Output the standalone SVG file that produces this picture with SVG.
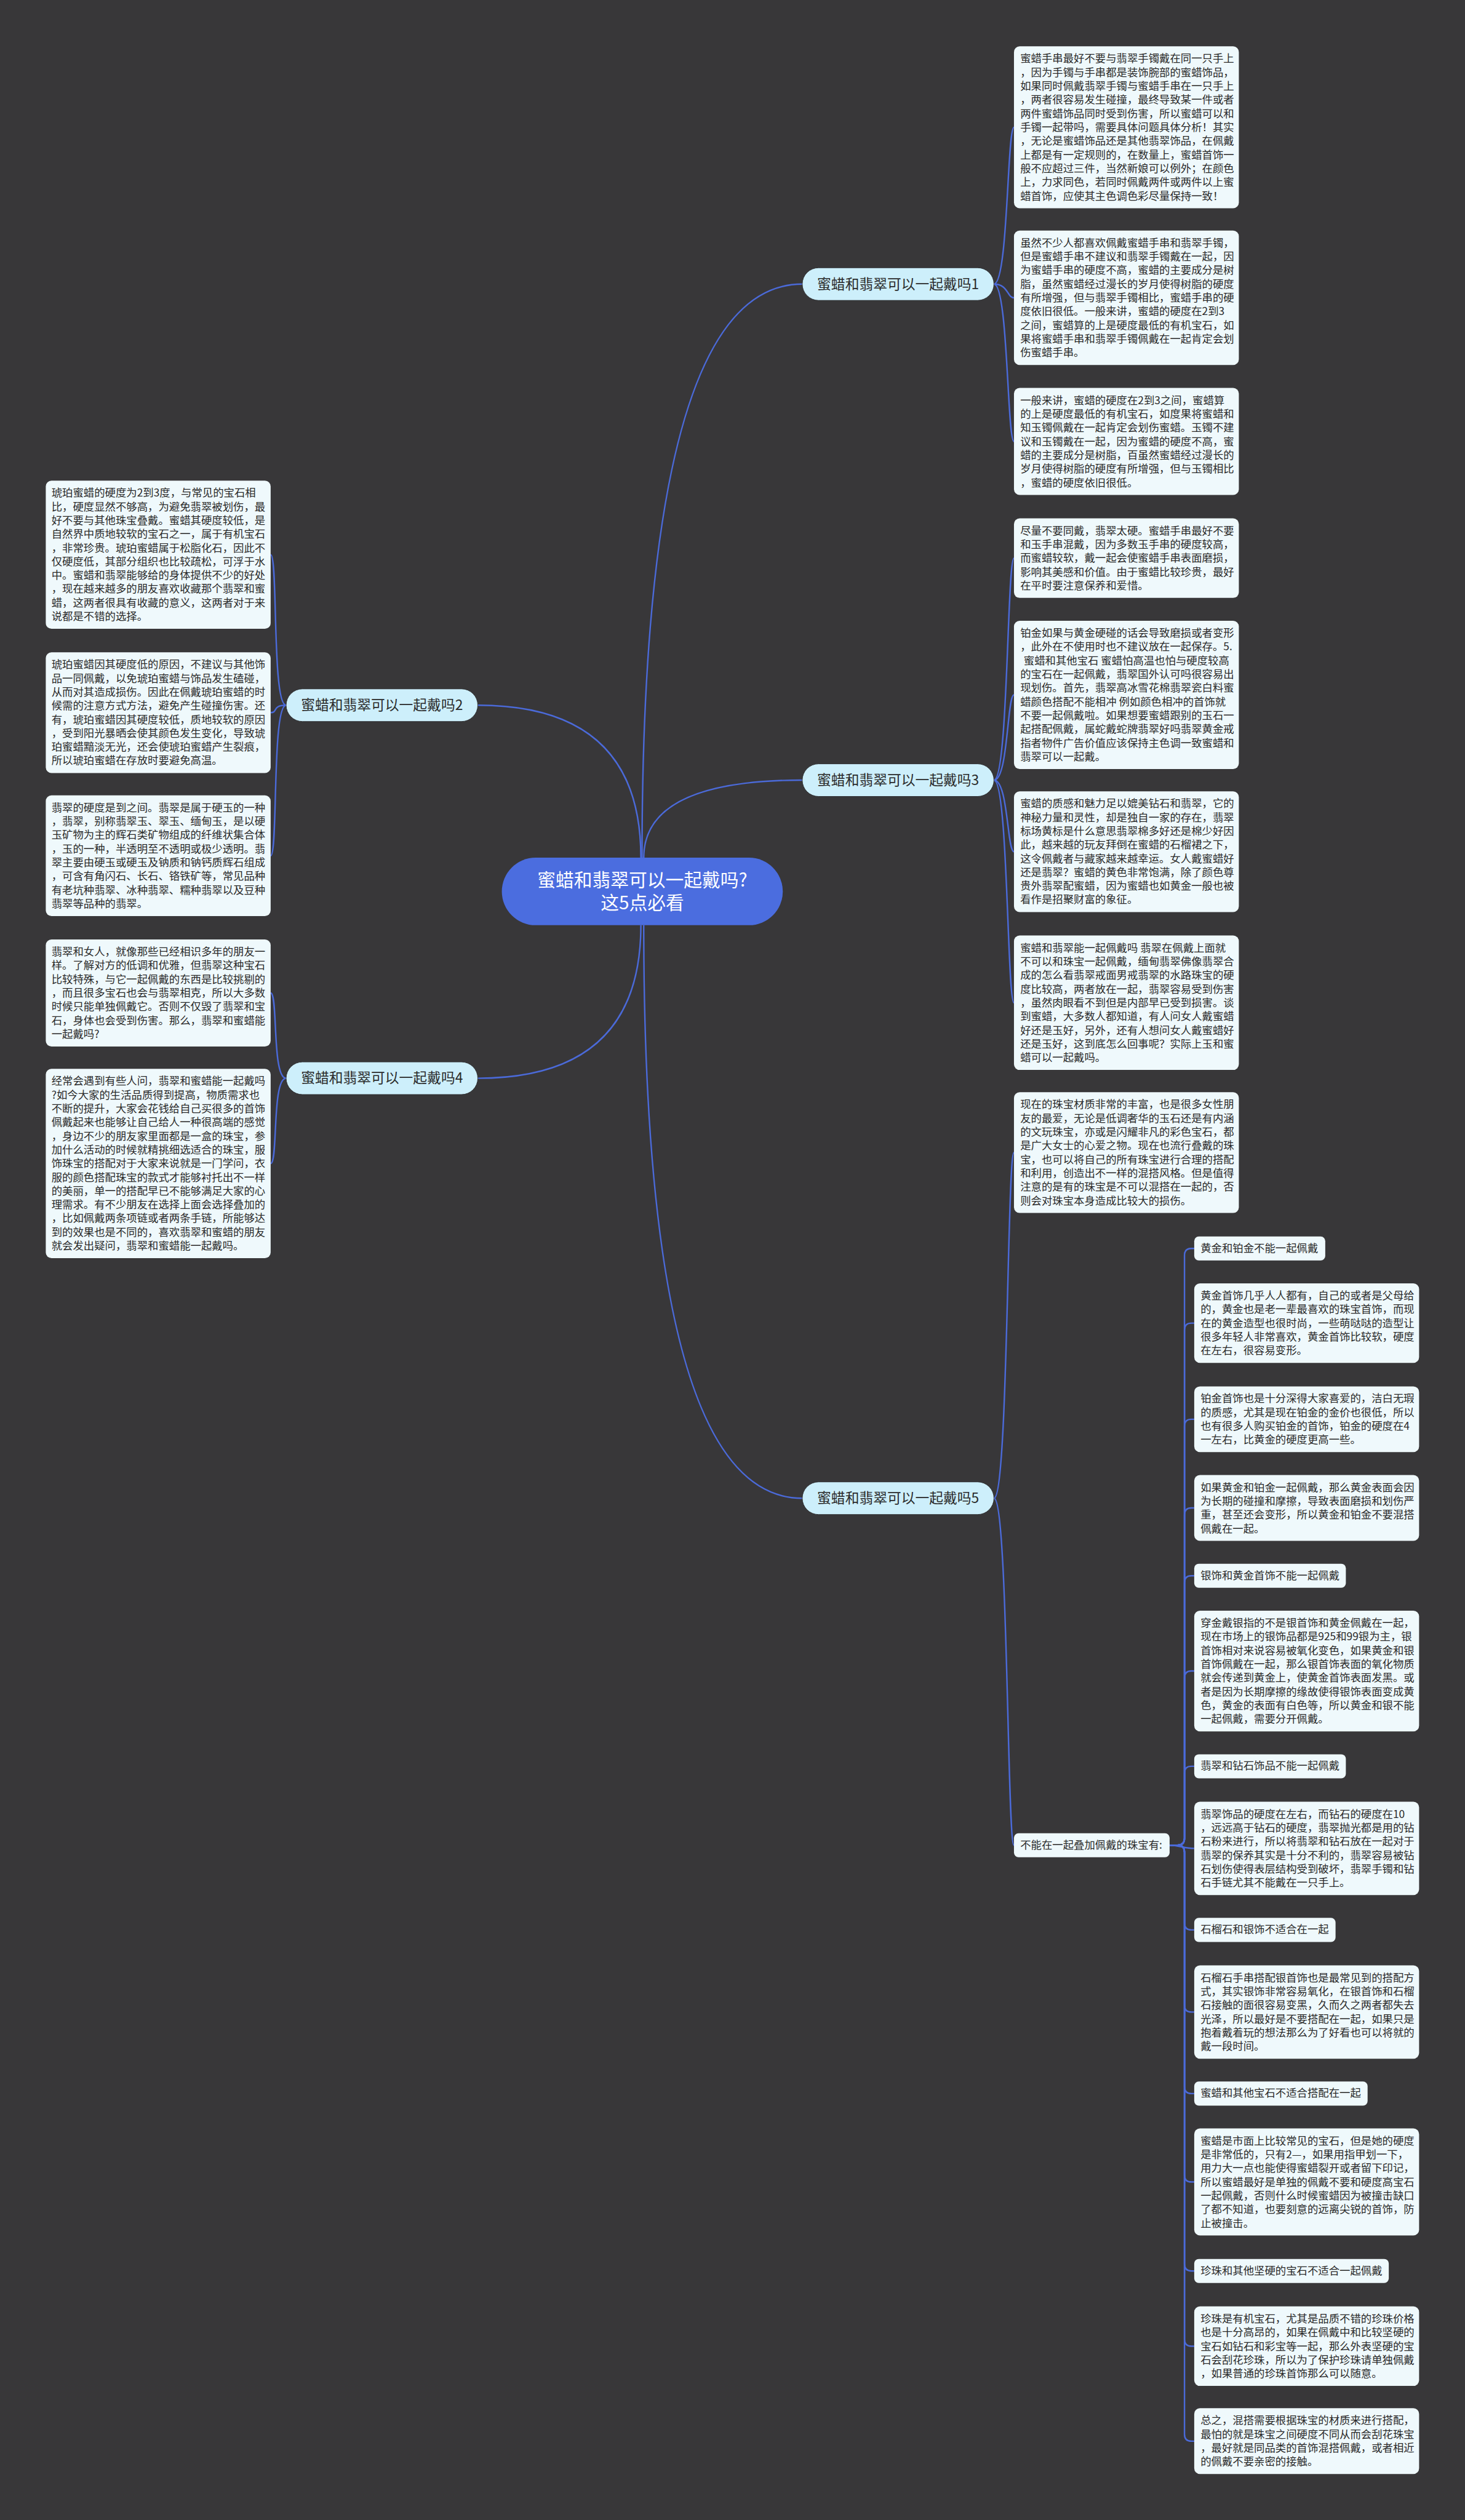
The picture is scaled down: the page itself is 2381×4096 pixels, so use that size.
<svg xmlns="http://www.w3.org/2000/svg" width="2381" height="4096" viewBox="0 0 2381 4096">
<style>
.bg{fill:#383739}
.ln{fill:none;stroke:#4b6ad9;stroke-width:2.6}
.box{fill:#eff9fc}
.br{fill:#cdeffb;stroke:#2a2a2c;stroke-width:1}
.ctr{fill:#4b6ddf}
.t{font-family:"Noto Sans CJK SC","Noto Sans",sans-serif;font-size:18.7px;fill:#2a2a2a}
.bt{font-family:"Noto Sans CJK SC","Noto Sans",sans-serif;font-size:24.5px;fill:#2a2a2a;text-anchor:middle}
.ct{font-family:"Noto Sans CJK SC","Noto Sans",sans-serif;font-size:32px;fill:#ffffff;text-anchor:middle}
</style>
<rect class="bg" x="0" y="0" width="2381" height="4096"/>
<g transform="scale(0.93)">
<g id="connectors">
<path class="ln" d="M1122,1499 Q1122,496.5 1402,496.5"/>
<path class="ln" d="M1125,1499 Q1125,1363.5 1402,1363.5"/>
<path class="ln" d="M1120,1499 Q1120,1232.5 835,1232.5"/>
<path class="ln" d="M1120,1617 Q1120,1884.5 835,1884.5"/>
<path class="ln" d="M1125,1617 Q1125,2618.5 1402,2618.5"/>
<path class="ln" d="M1737,496.5 C1762,496.5 1760,222.5 1772,222.5"/>
<path class="ln" d="M1737,496.5 C1762,496.5 1760,520.5 1772,520.5"/>
<path class="ln" d="M1737,496.5 C1762,496.5 1760,771.5 1772,771.5"/>
<path class="ln" d="M1737,1363.5 C1762,1363.5 1760,975.5 1772,975.5"/>
<path class="ln" d="M1737,1363.5 C1762,1363.5 1760,1214.5 1772,1214.5"/>
<path class="ln" d="M1737,1363.5 C1762,1363.5 1760,1488.5 1772,1488.5"/>
<path class="ln" d="M1737,1363.5 C1762,1363.5 1760,1752.5 1772,1752.5"/>
<path class="ln" d="M1737,2618.5 C1762,2618.5 1760,2014.5 1772,2014.5"/>
<path class="ln" d="M1737,2618.5 C1762,2618.5 1760,3225 1772,3225"/>
<path class="ln" d="M500,1232.5 C475,1232.5 486,969.5 473,969.5"/>
<path class="ln" d="M500,1232.5 C475,1232.5 486,1245.5 473,1245.5"/>
<path class="ln" d="M500,1232.5 C475,1232.5 486,1495.5 473,1495.5"/>
<path class="ln" d="M500,1884.5 C475,1884.5 486,1735.5 473,1735.5"/>
<path class="ln" d="M500,1884.5 C475,1884.5 486,2033.5 473,2033.5"/>
<path class="ln" d="M2044,3225 H2058 Q2070,3225 2070,3213 V2194 Q2070,2182 2082,2182 H2087"/>
<path class="ln" d="M2044,3225 H2058 Q2070,3225 2070,3213 V2324.5 Q2070,2312.5 2082,2312.5 H2087"/>
<path class="ln" d="M2044,3225 H2058 Q2070,3225 2070,3213 V2492.5 Q2070,2480.5 2082,2480.5 H2087"/>
<path class="ln" d="M2044,3225 H2058 Q2070,3225 2070,3213 V2647.5 Q2070,2635.5 2082,2635.5 H2087"/>
<path class="ln" d="M2044,3225 H2058 Q2070,3225 2070,3213 V2766 Q2070,2754 2082,2754 H2087"/>
<path class="ln" d="M2044,3225 H2058 Q2070,3225 2070,3213 V2932.5 Q2070,2920.5 2082,2920.5 H2087"/>
<path class="ln" d="M2044,3225 H2058 Q2070,3225 2070,3213 V3099 Q2070,3087 2082,3087 H2087"/>
<path class="ln" d="M2044,3225 C2060,3225 2070,3230.5 2087,3230.5"/>
<path class="ln" d="M2044,3225 H2058 Q2070,3225 2070,3237 V3361 Q2070,3373 2082,3373 H2087"/>
<path class="ln" d="M2044,3225 H2058 Q2070,3225 2070,3237 V3504.5 Q2070,3516.5 2082,3516.5 H2087"/>
<path class="ln" d="M2044,3225 H2058 Q2070,3225 2070,3237 V3647 Q2070,3659 2082,3659 H2087"/>
<path class="ln" d="M2044,3225 H2058 Q2070,3225 2070,3237 V3801.5 Q2070,3813.5 2082,3813.5 H2087"/>
<path class="ln" d="M2044,3225 H2058 Q2070,3225 2070,3237 V3957 Q2070,3969 2082,3969 H2087"/>
<path class="ln" d="M2044,3225 H2058 Q2070,3225 2070,3237 V4088.5 Q2070,4100.5 2082,4100.5 H2087"/>
<path class="ln" d="M2044,3225 H2058 Q2070,3225 2070,3237 V4254.5 Q2070,4266.5 2082,4266.5 H2087"/>
</g>

<g id="center">
<rect class="ctr" x="877" y="1499" width="491" height="118" rx="59"/>
<text class="ct" x="1122.5" y="1549">蜜蜡和翡翠可以一起戴吗?</text>
<text class="ct" x="1122.5" y="1589">这5点必看</text>
</g>

<g id="branch1"><rect class="br" x="1402" y="468" width="335" height="57" rx="28.5"/><text class="bt" x="1569.5" y="505">蜜蜡和翡翠可以一起戴吗1</text></g>
<g id="branch2"><rect class="br" x="500" y="1204" width="335" height="57" rx="28.5"/><text class="bt" x="667.5" y="1241">蜜蜡和翡翠可以一起戴吗2</text></g>
<g id="branch3"><rect class="br" x="1402" y="1335" width="335" height="57" rx="28.5"/><text class="bt" x="1569.5" y="1372">蜜蜡和翡翠可以一起戴吗3</text></g>
<g id="branch4"><rect class="br" x="500" y="1856" width="335" height="57" rx="28.5"/><text class="bt" x="667.5" y="1893">蜜蜡和翡翠可以一起戴吗4</text></g>
<g id="branch5"><rect class="br" x="1402" y="2590" width="335" height="57" rx="28.5"/><text class="bt" x="1569.5" y="2627">蜜蜡和翡翠可以一起戴吗5</text></g>

<g id="a1"><rect class="box" x="1772" y="81" width="393" height="283" rx="10"/>
<text class="t" x="1783" y="109"><tspan x="1783">蜜蜡手串最好不要与翡翠手镯戴在同一只手上</tspan><tspan x="1783" dy="24">，因为手镯与手串都是装饰腕部的蜜蜡饰品，</tspan><tspan x="1783" dy="24">如果同时佩戴翡翠手镯与蜜蜡手串在一只手上</tspan><tspan x="1783" dy="24">，两者很容易发生碰撞，最终导致某一件或者</tspan><tspan x="1783" dy="24">两件蜜蜡饰品同时受到伤害，所以蜜蜡可以和</tspan><tspan x="1783" dy="24">手镯一起带吗，需要具体问题具体分析！其实</tspan><tspan x="1783" dy="24">，无论是蜜蜡饰品还是其他翡翠饰品，在佩戴</tspan><tspan x="1783" dy="24">上都是有一定规则的，在数量上，蜜蜡首饰一</tspan><tspan x="1783" dy="24">般不应超过三件，当然新娘可以例外；在颜色</tspan><tspan x="1783" dy="24">上，力求同色，若同时佩戴两件或两件以上蜜</tspan><tspan x="1783" dy="24">蜡首饰，应使其主色调色彩尽量保持一致！</tspan></text></g>

<g id="a2"><rect class="box" x="1772" y="403" width="393" height="235" rx="10"/>
<text class="t" x="1783" y="431"><tspan x="1783">虽然不少人都喜欢佩戴蜜蜡手串和翡翠手镯，</tspan><tspan x="1783" dy="24">但是蜜蜡手串不建议和翡翠手镯戴在一起，因</tspan><tspan x="1783" dy="24">为蜜蜡手串的硬度不高，蜜蜡的主要成分是树</tspan><tspan x="1783" dy="24">脂，虽然蜜蜡经过漫长的岁月使得树脂的硬度</tspan><tspan x="1783" dy="24">有所增强，但与翡翠手镯相比，蜜蜡手串的硬</tspan><tspan x="1783" dy="24">度依旧很低。一般来讲，蜜蜡的硬度在2到3</tspan><tspan x="1783" dy="24">之间，蜜蜡算的上是硬度最低的有机宝石，如</tspan><tspan x="1783" dy="24">果将蜜蜡手串和翡翠手镯佩戴在一起肯定会划</tspan><tspan x="1783" dy="24">伤蜜蜡手串。</tspan></text></g>

<g id="a3"><rect class="box" x="1772" y="678" width="393" height="187" rx="10"/>
<text class="t" x="1783" y="706"><tspan x="1783">一般来讲，蜜蜡的硬度在2到3之间，蜜蜡算</tspan><tspan x="1783" dy="24">的上是硬度最低的有机宝石，如度果将蜜蜡和</tspan><tspan x="1783" dy="24">知玉镯佩戴在一起肯定会划伤蜜蜡。玉镯不建</tspan><tspan x="1783" dy="24">议和玉镯戴在一起，因为蜜蜡的硬度不高，蜜</tspan><tspan x="1783" dy="24">蜡的主要成分是树脂，百虽然蜜蜡经过漫长的</tspan><tspan x="1783" dy="24">岁月使得树脂的硬度有所增强，但与玉镯相比</tspan><tspan x="1783" dy="24">，蜜蜡的硬度依旧很低。</tspan></text></g>

<g id="b1"><rect class="box" x="1772" y="906" width="393" height="139" rx="10"/>
<text class="t" x="1783" y="934"><tspan x="1783">尽量不要同戴，翡翠太硬。蜜蜡手串最好不要</tspan><tspan x="1783" dy="24">和玉手串混戴，因为多数玉手串的硬度较高，</tspan><tspan x="1783" dy="24">而蜜蜡较软，戴一起会使蜜蜡手串表面磨损，</tspan><tspan x="1783" dy="24">影响其美感和价值。由于蜜蜡比较珍贵，最好</tspan><tspan x="1783" dy="24">在平时要注意保养和爱惜。</tspan></text></g>

<g id="b2"><rect class="box" x="1772" y="1085" width="393" height="259" rx="10"/>
<text class="t" x="1783" y="1113"><tspan x="1783">铂金如果与黄金硬碰的话会导致磨损或者变形</tspan><tspan x="1783" dy="24">，此外在不使用时也不建议放在一起保存。5.</tspan><tspan x="1789" dy="24">蜜蜡和其他宝石 蜜蜡怕高温也怕与硬度较高</tspan><tspan x="1783" dy="24">的宝石在一起佩戴，翡翠国外认可吗很容易出</tspan><tspan x="1783" dy="24">现划伤。首先，翡翠高冰雪花棉翡翠瓷白料蜜</tspan><tspan x="1783" dy="24">蜡颜色搭配不能相冲 例如颜色相冲的首饰就</tspan><tspan x="1783" dy="24">不要一起佩戴啦。如果想要蜜蜡跟别的玉石一</tspan><tspan x="1783" dy="24">起搭配佩戴，属蛇戴蛇牌翡翠好吗翡翠黄金戒</tspan><tspan x="1783" dy="24">指者物件广告价值应该保持主色调一致蜜蜡和</tspan><tspan x="1783" dy="24">翡翠可以一起戴。</tspan></text></g>

<g id="b3"><rect class="box" x="1772" y="1383" width="393" height="211" rx="10"/>
<text class="t" x="1783" y="1411"><tspan x="1783">蜜蜡的质感和魅力足以媲美钻石和翡翠，它的</tspan><tspan x="1783" dy="24">神秘力量和灵性，却是独自一家的存在，翡翠</tspan><tspan x="1783" dy="24">标场黄标是什么意思翡翠棉多好还是棉少好因</tspan><tspan x="1783" dy="24">此，越来越的玩友拜倒在蜜蜡的石榴裙之下，</tspan><tspan x="1783" dy="24">这令佩戴者与藏家越来越幸运。女人戴蜜蜡好</tspan><tspan x="1783" dy="24">还是翡翠？蜜蜡的黄色非常饱满，除了颜色尊</tspan><tspan x="1783" dy="24">贵外翡翠配蜜蜡，因为蜜蜡也如黄金一般也被</tspan><tspan x="1783" dy="24">看作是招聚财富的象征。</tspan></text></g>

<g id="b4"><rect class="box" x="1772" y="1635" width="393" height="235" rx="10"/>
<text class="t" x="1783" y="1663"><tspan x="1783">蜜蜡和翡翠能一起佩戴吗 翡翠在佩戴上面就</tspan><tspan x="1783" dy="24">不可以和珠宝一起佩戴，缅甸翡翠佛像翡翠合</tspan><tspan x="1783" dy="24">成的怎么看翡翠戒面男戒翡翠的水路珠宝的硬</tspan><tspan x="1783" dy="24">度比较高，两者放在一起，翡翠容易受到伤害</tspan><tspan x="1783" dy="24">，虽然肉眼看不到但是内部早已受到损害。谈</tspan><tspan x="1783" dy="24">到蜜蜡，大多数人都知道，有人问女人戴蜜蜡</tspan><tspan x="1783" dy="24">好还是玉好，另外，还有人想问女人戴蜜蜡好</tspan><tspan x="1783" dy="24">还是玉好，这到底怎么回事呢？实际上玉和蜜</tspan><tspan x="1783" dy="24">蜡可以一起戴吗。</tspan></text></g>

<g id="c0"><rect class="box" x="1772" y="1909" width="393" height="211" rx="10"/>
<text class="t" x="1783" y="1937"><tspan x="1783">现在的珠宝材质非常的丰富，也是很多女性朋</tspan><tspan x="1783" dy="24">友的最爱，无论是低调奢华的玉石还是有内涵</tspan><tspan x="1783" dy="24">的文玩珠宝，亦或是闪耀非凡的彩色宝石，都</tspan><tspan x="1783" dy="24">是广大女士的心爱之物。现在也流行叠戴的珠</tspan><tspan x="1783" dy="24">宝，也可以将自己的所有珠宝进行合理的搭配</tspan><tspan x="1783" dy="24">和利用，创造出不一样的混搭风格。但是值得</tspan><tspan x="1783" dy="24">注意的是有的珠宝是不可以混搭在一起的，否</tspan><tspan x="1783" dy="24">则会对珠宝本身造成比较大的损伤。</tspan></text></g>

<g id="q"><rect class="box" x="1772" y="3204" width="272" height="42" rx="8"/>
<text class="t" x="1783" y="3231">不能在一起叠加佩戴的珠宝有:</text></g>

<g id="d1l"><rect class="box" x="2087" y="2161" width="229" height="42" rx="8"/><text class="t" x="2098" y="2188">黄金和铂金不能一起佩戴</text></g>
<g id="d1"><rect class="box" x="2087" y="2243" width="393" height="139" rx="10"/>
<text class="t" x="2098" y="2271"><tspan x="2098">黄金首饰几乎人人都有，自己的或者是父母给</tspan><tspan x="2098" dy="24">的，黄金也是老一辈最喜欢的珠宝首饰，而现</tspan><tspan x="2098" dy="24">在的黄金造型也很时尚，一些萌哒哒的造型让</tspan><tspan x="2098" dy="24">很多年轻人非常喜欢，黄金首饰比较软，硬度</tspan><tspan x="2098" dy="24">在左右，很容易变形。</tspan></text></g>
<g id="d2"><rect class="box" x="2087" y="2423" width="393" height="115" rx="10"/>
<text class="t" x="2098" y="2451"><tspan x="2098">铂金首饰也是十分深得大家喜爱的，洁白无瑕</tspan><tspan x="2098" dy="24">的质感，尤其是现在铂金的金价也很低，所以</tspan><tspan x="2098" dy="24">也有很多人购买铂金的首饰，铂金的硬度在4</tspan><tspan x="2098" dy="24">一左右，比黄金的硬度更高一些。</tspan></text></g>
<g id="d3"><rect class="box" x="2087" y="2578" width="393" height="115" rx="10"/>
<text class="t" x="2098" y="2606"><tspan x="2098">如果黄金和铂金一起佩戴，那么黄金表面会因</tspan><tspan x="2098" dy="24">为长期的碰撞和摩擦，导致表面磨损和划伤严</tspan><tspan x="2098" dy="24">重，甚至还会变形，所以黄金和铂金不要混搭</tspan><tspan x="2098" dy="24">佩戴在一起。</tspan></text></g>
<g id="d4l"><rect class="box" x="2087" y="2733" width="265" height="42" rx="8"/><text class="t" x="2098" y="2760">银饰和黄金首饰不能一起佩戴</text></g>
<g id="d5"><rect class="box" x="2087" y="2815" width="393" height="211" rx="10"/>
<text class="t" x="2098" y="2843"><tspan x="2098">穿金戴银指的不是银首饰和黄金佩戴在一起，</tspan><tspan x="2098" dy="24">现在市场上的银饰品都是925和99银为主，银</tspan><tspan x="2098" dy="24">首饰相对来说容易被氧化变色，如果黄金和银</tspan><tspan x="2098" dy="24">首饰佩戴在一起，那么银首饰表面的氧化物质</tspan><tspan x="2098" dy="24">就会传递到黄金上，使黄金首饰表面发黑。或</tspan><tspan x="2098" dy="24">者是因为长期摩擦的缘故使得银饰表面变成黄</tspan><tspan x="2098" dy="24">色，黄金的表面有白色等，所以黄金和银不能</tspan><tspan x="2098" dy="24">一起佩戴，需要分开佩戴。</tspan></text></g>
<g id="d6l"><rect class="box" x="2087" y="3066" width="265" height="42" rx="8"/><text class="t" x="2098" y="3093">翡翠和钻石饰品不能一起佩戴</text></g>
<g id="d7"><rect class="box" x="2087" y="3149" width="393" height="163" rx="10"/>
<text class="t" x="2098" y="3177"><tspan x="2098">翡翠饰品的硬度在左右，而钻石的硬度在10</tspan><tspan x="2098" dy="24">，远远高于钻石的硬度，翡翠抛光都是用的钻</tspan><tspan x="2098" dy="24">石粉来进行，所以将翡翠和钻石放在一起对于</tspan><tspan x="2098" dy="24">翡翠的保养其实是十分不利的，翡翠容易被钻</tspan><tspan x="2098" dy="24">石划伤使得表层结构受到破坏，翡翠手镯和钻</tspan><tspan x="2098" dy="24">石手链尤其不能戴在一只手上。</tspan></text></g>
<g id="d8l"><rect class="box" x="2087" y="3352" width="247" height="42" rx="8"/><text class="t" x="2098" y="3379">石榴石和银饰不适合在一起</text></g>
<g id="d9"><rect class="box" x="2087" y="3435" width="393" height="163" rx="10"/>
<text class="t" x="2098" y="3463"><tspan x="2098">石榴石手串搭配银首饰也是最常见到的搭配方</tspan><tspan x="2098" dy="24">式，其实银饰非常容易氧化，在银首饰和石榴</tspan><tspan x="2098" dy="24">石接触的面很容易变黑，久而久之两者都失去</tspan><tspan x="2098" dy="24">光泽，所以最好是不要搭配在一起，如果只是</tspan><tspan x="2098" dy="24">抱着戴着玩的想法那么为了好看也可以将就的</tspan><tspan x="2098" dy="24">戴一段时间。</tspan></text></g>
<g id="d10l"><rect class="box" x="2087" y="3638" width="303" height="42" rx="8"/><text class="t" x="2098" y="3665">蜜蜡和其他宝石不适合搭配在一起</text></g>
<g id="d11"><rect class="box" x="2087" y="3720" width="393" height="187" rx="10"/>
<text class="t" x="2098" y="3748"><tspan x="2098">蜜蜡是市面上比较常见的宝石，但是她的硬度</tspan><tspan x="2098" dy="24">是非常低的，只有2—，如果用指甲划一下，</tspan><tspan x="2098" dy="24">用力大一点也能使得蜜蜡裂开或者留下印记，</tspan><tspan x="2098" dy="24">所以蜜蜡最好是单独的佩戴不要和硬度高宝石</tspan><tspan x="2098" dy="24">一起佩戴，否则什么时候蜜蜡因为被撞击缺口</tspan><tspan x="2098" dy="24">了都不知道，也要刻意的远离尖锐的首饰，防</tspan><tspan x="2098" dy="24">止被撞击。</tspan></text></g>
<g id="d12l"><rect class="box" x="2087" y="3948" width="340" height="42" rx="8"/><text class="t" x="2098" y="3975">珍珠和其他坚硬的宝石不适合一起佩戴</text></g>
<g id="d13"><rect class="box" x="2087" y="4031" width="393" height="139" rx="10"/>
<text class="t" x="2098" y="4059"><tspan x="2098">珍珠是有机宝石，尤其是品质不错的珍珠价格</tspan><tspan x="2098" dy="24">也是十分高昂的，如果在佩戴中和比较坚硬的</tspan><tspan x="2098" dy="24">宝石如钻石和彩宝等一起，那么外表坚硬的宝</tspan><tspan x="2098" dy="24">石会刮花珍珠，所以为了保护珍珠请单独佩戴</tspan><tspan x="2098" dy="24">，如果普通的珍珠首饰那么可以随意。</tspan></text></g>
<g id="d14"><rect class="box" x="2087" y="4209" width="393" height="115" rx="10"/>
<text class="t" x="2098" y="4237"><tspan x="2098">总之，混搭需要根据珠宝的材质来进行搭配，</tspan><tspan x="2098" dy="24">最怕的就是珠宝之间硬度不同从而会刮花珠宝</tspan><tspan x="2098" dy="24">，最好就是同品类的首饰混搭佩戴，或者相近</tspan><tspan x="2098" dy="24">的佩戴不要亲密的接触。</tspan></text></g>

<g id="l1"><rect class="box" x="80" y="840" width="393" height="259" rx="10"/>
<text class="t" x="90" y="868"><tspan x="90">琥珀蜜蜡的硬度为2到3度，与常见的宝石相</tspan><tspan x="90" dy="24">比，硬度显然不够高，为避免翡翠被划伤，最</tspan><tspan x="90" dy="24">好不要与其他珠宝叠戴。蜜蜡其硬度较低，是</tspan><tspan x="90" dy="24">自然界中质地较软的宝石之一，属于有机宝石</tspan><tspan x="90" dy="24">，非常珍贵。琥珀蜜蜡属于松脂化石，因此不</tspan><tspan x="90" dy="24">仅硬度低，其部分组织也比较疏松，可浮于水</tspan><tspan x="90" dy="24">中。蜜蜡和翡翠能够给的身体提供不少的好处</tspan><tspan x="90" dy="24">，现在越来越多的朋友喜欢收藏那个翡翠和蜜</tspan><tspan x="90" dy="24">蜡，这两者很具有收藏的意义，这两者对于来</tspan><tspan x="90" dy="24">说都是不错的选择。</tspan></text></g>

<g id="l2"><rect class="box" x="80" y="1140" width="393" height="211" rx="10"/>
<text class="t" x="90" y="1168"><tspan x="90">琥珀蜜蜡因其硬度低的原因，不建议与其他饰</tspan><tspan x="90" dy="24">品一同佩戴，以免琥珀蜜蜡与饰品发生磕碰，</tspan><tspan x="90" dy="24">从而对其造成损伤。因此在佩戴琥珀蜜蜡的时</tspan><tspan x="90" dy="24">候需的注意方式方法，避免产生碰撞伤害。还</tspan><tspan x="90" dy="24">有，琥珀蜜蜡因其硬度较低，质地较软的原因</tspan><tspan x="90" dy="24">，受到阳光暴晒会使其颜色发生变化，导致琥</tspan><tspan x="90" dy="24">珀蜜蜡黯淡无光，还会使琥珀蜜蜡产生裂痕，</tspan><tspan x="90" dy="24">所以琥珀蜜蜡在存放时要避免高温。</tspan></text></g>

<g id="l3"><rect class="box" x="80" y="1390" width="393" height="211" rx="10"/>
<text class="t" x="90" y="1418"><tspan x="90">翡翠的硬度是到之间。翡翠是属于硬玉的一种</tspan><tspan x="90" dy="24">，翡翠，别称翡翠玉、翠玉、缅甸玉，是以硬</tspan><tspan x="90" dy="24">玉矿物为主的辉石类矿物组成的纤维状集合体</tspan><tspan x="90" dy="24">，玉的一种，半透明至不透明或极少透明。翡</tspan><tspan x="90" dy="24">翠主要由硬玉或硬玉及钠质和钠钙质辉石组成</tspan><tspan x="90" dy="24">，可含有角闪石、长石、铬铁矿等，常见品种</tspan><tspan x="90" dy="24">有老坑种翡翠、冰种翡翠、糯种翡翠以及豆种</tspan><tspan x="90" dy="24">翡翠等品种的翡翠。</tspan></text></g>

<g id="l4"><rect class="box" x="80" y="1642" width="393" height="187" rx="10"/>
<text class="t" x="90" y="1670"><tspan x="90">翡翠和女人，就像那些已经相识多年的朋友一</tspan><tspan x="90" dy="24">样。了解对方的低调和优雅，但翡翠这种宝石</tspan><tspan x="90" dy="24">比较特殊，与它一起佩戴的东西是比较挑剔的</tspan><tspan x="90" dy="24">，而且很多宝石也会与翡翠相克，所以大多数</tspan><tspan x="90" dy="24">时候只能单独佩戴它。否则不仅毁了翡翠和宝</tspan><tspan x="90" dy="24">石，身体也会受到伤害。那么，翡翠和蜜蜡能</tspan><tspan x="90" dy="24">一起戴吗?</tspan></text></g>

<g id="l5"><rect class="box" x="80" y="1868" width="393" height="331" rx="10"/>
<text class="t" x="90" y="1896"><tspan x="90">经常会遇到有些人问，翡翠和蜜蜡能一起戴吗</tspan><tspan x="90" dy="24">?如今大家的生活品质得到提高，物质需求也</tspan><tspan x="90" dy="24">不断的提升，大家会花钱给自己买很多的首饰</tspan><tspan x="90" dy="24">佩戴起来也能够让自己给人一种很高端的感觉</tspan><tspan x="90" dy="24">，身边不少的朋友家里面都是一盒的珠宝，参</tspan><tspan x="90" dy="24">加什么活动的时候就精挑细选适合的珠宝，服</tspan><tspan x="90" dy="24">饰珠宝的搭配对于大家来说就是一门学问，衣</tspan><tspan x="90" dy="24">服的颜色搭配珠宝的款式才能够衬托出不一样</tspan><tspan x="90" dy="24">的美丽，单一的搭配早已不能够满足大家的心</tspan><tspan x="90" dy="24">理需求。有不少朋友在选择上面会选择叠加的</tspan><tspan x="90" dy="24">，比如佩戴两条项链或者两条手链，所能够达</tspan><tspan x="90" dy="24">到的效果也是不同的，喜欢翡翠和蜜蜡的朋友</tspan><tspan x="90" dy="24">就会发出疑问，翡翠和蜜蜡能一起戴吗。</tspan></text></g>
</g>
</svg>
